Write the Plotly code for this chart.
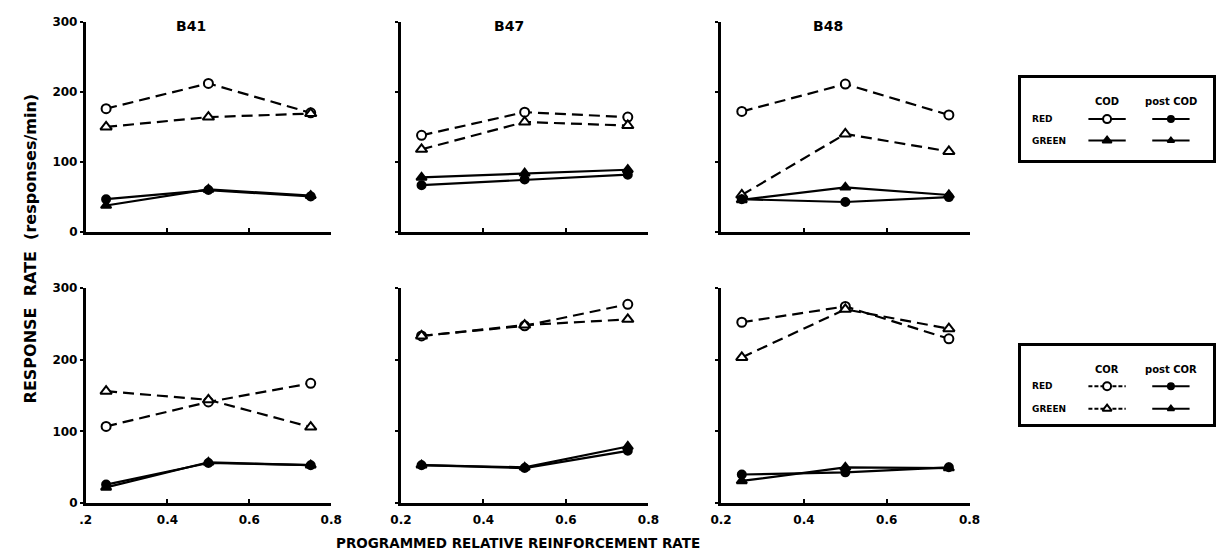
import plotly.graph_objects as go

# ---------------- data ----------------
rel_rate = [0.25, 0.5, 0.75]
birds = ["B41", "B47", "B48"]
x_ticks = [0.2, 0.4, 0.6, 0.8]
x_ticktext_first = [".2", "0.4", "0.6", "0.8"]
x_ticktext = ["0.2", "0.4", "0.6", "0.8"]
y_ticks = [0, 100, 200, 300]
y_ticktext = ["0", "100", "200", "300"]

# top row: COD condition
b41_red_cod = [176, 212, 170]
b41_green_cod = [150, 164, 169]
b41_red_postcod = [47, 60, 51]
b41_green_postcod = [38, 61, 52]

b47_red_cod = [138, 171, 164]
b47_green_cod = [118, 157, 152]
b47_red_postcod = [67, 75, 82]
b47_green_postcod = [78, 84, 89]

b48_red_cod = [172, 211, 167]
b48_green_cod = [53, 140, 115]
b48_red_postcod = [47, 43, 50]
b48_green_postcod = [46, 64, 53]

# bottom row: COR condition
b41_red_cor = [107, 141, 167]
b41_green_cor = [156, 144, 106]
b41_red_postcor = [26, 56, 53]
b41_green_postcor = [22, 57, 53]

b47_red_cor = [233, 247, 277]
b47_green_cor = [233, 248, 256]
b47_red_postcor = [53, 49, 73]
b47_green_postcor = [53, 50, 79]

b48_red_cor = [252, 274, 229]
b48_green_cor = [203, 270, 243]
b48_red_postcor = [40, 43, 50]
b48_green_postcor = [31, 50, 49]

top_panels = [
    (b41_red_cod, b41_green_cod, b41_red_postcod, b41_green_postcod),
    (b47_red_cod, b47_green_cod, b47_red_postcod, b47_green_postcod),
    (b48_red_cod, b48_green_cod, b48_red_postcod, b48_green_postcod),
]
bottom_panels = [
    (b41_red_cor, b41_green_cor, b41_red_postcor, b41_green_postcor),
    (b47_red_cor, b47_green_cor, b47_red_postcor, b47_green_postcor),
    (b48_red_cor, b48_green_cor, b48_red_postcor, b48_green_postcor),
]

# ---------------- layout geometry (pixels) ----------------
W, H = 1232, 558
col_px = [(76, 326), (397, 649), (723, 976)]
row_px = [(15, 231), (288, 509)]  # top, bottom (y of 300, y of 0)

FONT = "DejaVu Sans"
BLACK = "#000000"
DASH = "11px,6px"


def xd(a, b):
    return [a / W, b / W]


def yd(top, bottom):
    return [1 - bottom / H, 1 - top / H]


def bfont(size):
    return dict(size=size, family=FONT, weight="bold", color=BLACK)


fig = go.Figure()
layout = dict(
    width=W, height=H,
    margin=dict(l=0, r=0, t=0, b=0),
    paper_bgcolor="white", plot_bgcolor="white",
    showlegend=False,
    font=bfont(12),
)

styles = [
    dict(dash=DASH, symbol="circle", fill="white", size=9),
    dict(dash=DASH, symbol="triangle-up", fill="white", size=10),
    dict(dash="solid", symbol="circle", fill=BLACK, size=8),
    dict(dash="solid", symbol="triangle-up", fill=BLACK, size=9),
]

for r, panels in enumerate([top_panels, bottom_panels]):
    for c, series in enumerate(panels):
        idx = r * 3 + c + 1
        sfx = "" if idx == 1 else str(idx)
        for vals, st in zip(series, styles):
            fig.add_trace(go.Scatter(
                x=rel_rate, y=vals, mode="lines+markers",
                xaxis="x" + sfx, yaxis="y" + sfx,
                line=dict(color=BLACK, width=2.2, dash=st["dash"]),
                marker=dict(symbol=st["symbol"], size=st["size"], color=st["fill"],
                            line=dict(color=BLACK, width=2)),
                cliponaxis=False,
            ))
        layout["xaxis" + sfx] = dict(
            domain=xd(*col_px[c]), anchor="y" + sfx, range=[0.2, 0.8],
            tickvals=x_ticks,
            ticktext=(x_ticktext_first if c == 0 else x_ticktext),
            showticklabels=(r == 1),
            ticks="inside", ticklen=4, tickwidth=2, tickcolor=BLACK,
            showline=True, linewidth=2.5, linecolor=BLACK,
            showgrid=False, zeroline=False,
            ticklabelstandoff=4,
            tickfont=bfont(12),
        )
        layout["yaxis" + sfx] = dict(
            domain=yd(*row_px[r]), anchor="x" + sfx, range=[0, 300],
            tickvals=y_ticks, ticktext=y_ticktext,
            showticklabels=(c == 0),
            ticks="outside", ticklen=3, tickwidth=2, tickcolor=BLACK,
            showline=True, linewidth=2.5, linecolor=BLACK,
            showgrid=False, zeroline=False,
            tickfont=bfont(12),
        )

annotations = []
# panel titles
title_x = [183, 507, 832]
for name, tx in zip(birds, title_x):
    annotations.append(dict(text=name, x=tx / W, y=1 - 20 / H, xref="paper", yref="paper",
                            xanchor="center", yanchor="middle",
                            showarrow=False, font=bfont(14)))
# axis titles
annotations.append(dict(text="RESPONSE\u00a0\u00a0RATE\u00a0\u00a0(responses/min)",
                        x=20 / W, y=1 - 248 / H, xref="paper", yref="paper",
                        xanchor="center", yanchor="middle",
                        textangle=-90, showarrow=False, font=bfont(16)))
annotations.append(dict(text="PROGRAMMED RELATIVE REINFORCEMENT RATE",
                        x=516 / W, y=1 - 550 / H, xref="paper", yref="paper",
                        xanchor="center", yanchor="middle",
                        showarrow=False, font=bfont(13.5)))

# ---------------- custom legends ----------------
legend_boxes = [  # (x0, x1, ytop, ybottom)
    (1028, 1224, 73, 157),
    (1028, 1224, 348, 428),
]
legend_headers = [("COD", "post COD"), ("COR", "post COR")]
legend_rows = ["RED", "GREEN"]
hdr_y = [97, 372]
row_y = [(115, 137), (389, 412)]
col_line = [(1097, 1135, 1116), (1162, 1200, 1181)]
label_x = 1038

leg_styles = [
    [dict(dash="solid", symbol="circle", fill="white", size=8),
     dict(dash="solid", symbol="triangle-up", fill=BLACK, size=8),
     dict(dash="solid", symbol="circle", fill=BLACK, size=6),
     dict(dash="solid", symbol="triangle-up", fill=BLACK, size=6)],
    [dict(dash="4px,2px", symbol="circle", fill="white", size=8),
     dict(dash="4px,2px", symbol="triangle-up", fill="white", size=8),
     dict(dash="solid", symbol="circle", fill=BLACK, size=6),
     dict(dash="solid", symbol="triangle-up", fill=BLACK, size=6)],
]

for k, (bx0, bx1, by0, by1) in enumerate(legend_boxes):
    n = 7 + k
    sfx = str(n)
    layout["xaxis" + sfx] = dict(domain=xd(bx0, bx1), anchor="y" + sfx, range=[bx0, bx1],
                                 showline=True, mirror=True, linewidth=2.5, linecolor=BLACK,
                                 showticklabels=False, ticks="", showgrid=False, zeroline=False,
                                 fixedrange=True)
    layout["yaxis" + sfx] = dict(domain=yd(by0, by1), anchor="x" + sfx, range=[by1, by0],
                                 showline=True, mirror=True, linewidth=2.5, linecolor=BLACK,
                                 showticklabels=False, ticks="", showgrid=False, zeroline=False,
                                 fixedrange=True)
    for ci, (lx0, lx1, mx) in enumerate(col_line):
        annotations.append(dict(text=legend_headers[k][ci], x=mx, y=hdr_y[k],
                                xref="x" + sfx, yref="y" + sfx, showarrow=False,
                                xanchor="center", yanchor="middle", font=bfont(10)))
        for ri, ry in enumerate(row_y[k]):
            st = leg_styles[k][ci * 2 + ri]
            fig.add_trace(go.Scatter(
                x=[lx0, lx1], y=[ry, ry], mode="lines", xaxis="x" + sfx, yaxis="y" + sfx,
                line=dict(color=BLACK, width=2, dash=st["dash"]), hoverinfo="skip"))
            fig.add_trace(go.Scatter(
                x=[mx], y=[ry], mode="markers", xaxis="x" + sfx, yaxis="y" + sfx,
                marker=dict(symbol=st["symbol"], size=st["size"], color=st["fill"],
                            line=dict(color=BLACK, width=2)), hoverinfo="skip"))
    for ri, ry in enumerate(row_y[k]):
        annotations.append(dict(text=legend_rows[ri], x=label_x, y=ry,
                                xref="x" + sfx, yref="y" + sfx, xanchor="left",
                                yanchor="middle", showarrow=False, font=bfont(9)))

layout["annotations"] = annotations
fig.update_layout(**layout)
fig.write_html("out.html")
